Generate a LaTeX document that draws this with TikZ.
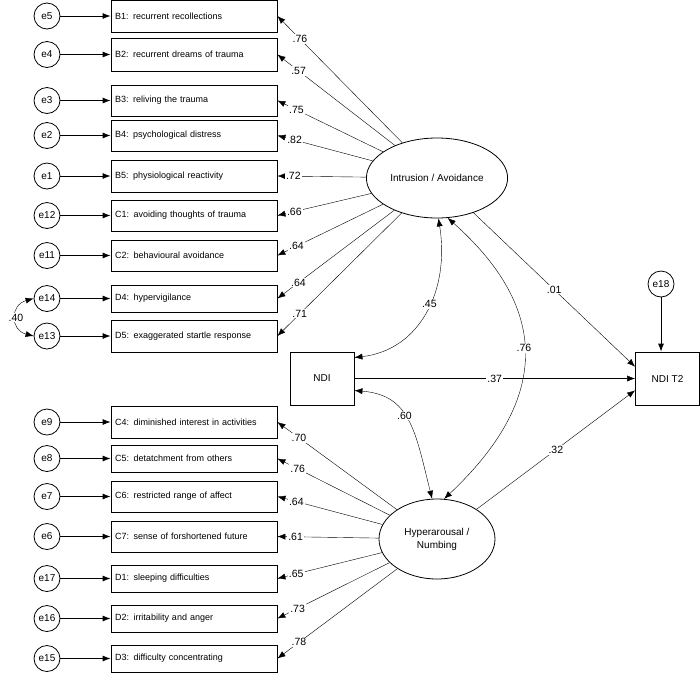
\documentclass[tikz,border=0pt]{standalone}
\usepackage{fontspec}
\setmainfont{Liberation Sans}
\usetikzlibrary{arrows.meta,shapes.geometric}

\begin{document}
\begin{tikzpicture}[x=1pt,y=-1pt,>={Latex[length=8pt,width=6pt]},
  item/.style={rectangle,draw,thick,minimum width=166pt,text width=158pt,align=left,font=\fontsize{9}{10}\selectfont,inner sep=3pt},
  err/.style={circle,draw,thick,minimum size=26pt,inner sep=0pt,font=\fontsize{10}{11}\selectfont},
  latent/.style={ellipse,draw,thick,minimum width=116pt,minimum height=80pt,align=center,font=\fontsize{10}{13}\selectfont},
  obs/.style={rectangle,draw,thick,minimum width=64pt,minimum height=53pt,font=\fontsize{10}{11}\selectfont},
  coef/.style={fill=white,inner sep=1pt,font=\fontsize{10.5}{11}\selectfont}]
\useasboundingbox (0,0) rectangle (700,673);

% indicators with their error terms
\foreach \name/\err/\txt/\y/\h in {
  B1/e5/B1: recurrent recollections/16/32,
  B2/e4/B2: recurrent dreams of trauma/54.5/33,
  B3/e3/B3: reliving the trauma/100.5/31,
  B4/e2/B4: psychological distress/135.5/31,
  B5/e1/B5: physiological reactivity/176/32,
  C1/e12/C1: avoiding thoughts of trauma/215.5/31,
  C2/e11/C2: behavioural avoidance/255.5/31,
  D4/e14/D4: hypervigilance/298.5/27,
  D5/e13/D5: exaggerated startle response/336/32,
  C4/e9/C4: diminished interest in activities/422/32,
  C5/e8/C5: detatchment from others/458.5/27,
  C6/e7/C6: restricted range of affect/496.5/31,
  C7/e6/C7: sense of forshortened future/536.5/31,
  D1/e17/D1: sleeping difficulties/578.5/27,
  D2/e16/D2: irritability and anger/618.5/27,
  D3/e15/D3: difficulty concentrating/658.5/27}{
  \node[item,minimum height=\h pt] (\name) at (194,\y) {\txt};
  \node[err] (\err) at (47,\y) {\err};
  \draw[->,thick] (\err) -- (\name);
}

% latent factors and outcome
\node[latent] (IA) at (437,178) {Intrusion / Avoidance};
\node[latent] (HN) at (437,539) {Hyperarousal /\\Numbing};
\node[obs] (NDI) at (322,378.5) {NDI};
\node[obs] (T2) at (667.5,378.5) {NDI T2};
\node[err] (e18) at (661,284) {e18};

% loadings
\foreach \name/\val in {B1/.76,B2/.57,B3/.75,B4/.82,B5/.72,C1/.66,C2/.64,D4/.64,D5/.71}
  \draw[->] (IA) -- node[coef,pos=0.82] {\val} (\name.east);
\foreach \name/\val in {C4/.70,C5/.76,C6/.64,C7/.61,D1/.65,D2/.73,D3/.78}
  \draw[->] (HN) -- node[coef,pos=0.82] {\val} (\name.east);

% structural paths
\draw[->] (NDI) -- node[coef] {.37} (T2);
\draw[->] (IA) -- node[coef] {.01} (T2.160);
\draw[->] (HN) -- node[coef] {.32} (T2.200);
\draw[->,thick] (e18) -- (T2.north -| e18);

% covariances
\draw[<->] (e14.west) .. controls (10,305) and (10,330) .. node[coef] {.40} (e13.west);
\draw[<->] ([yshift=21pt]NDI.east) .. controls (420,350) and (450,290) .. node[coef,pos=0.55] {.45} (IA.-88);
\draw[<->] ([yshift=-12pt]NDI.east) .. controls (410,395) and (415,430) .. node[coef,pos=0.45] {.60} (HN.97);
\draw[<->] (IA.-75) .. controls (540,300) and (560,390) .. node[coef,pos=0.5] {.76} (HN.80);
\end{tikzpicture}
\end{document}
